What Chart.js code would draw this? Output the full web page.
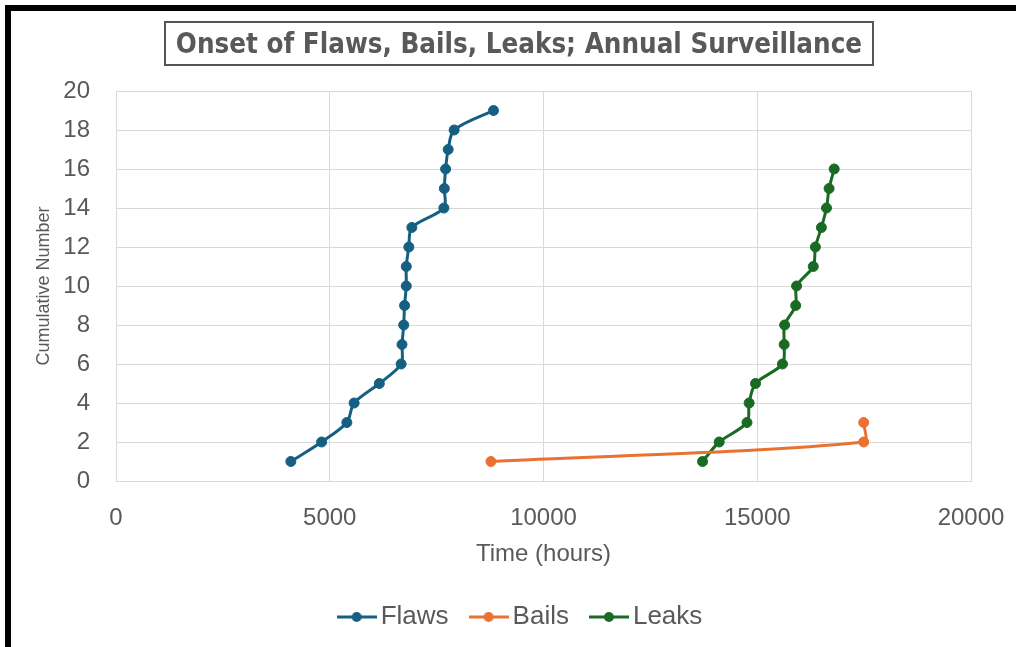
<!DOCTYPE html>
<html>
<head>
<meta charset="utf-8">
<script src="https://cdn.jsdelivr.net/npm/chart.js@4.4.1/dist/chart.umd.min.js"></script>
<style>
  html, body { margin: 0; padding: 0; background: #fff; }
  #wrap { position: relative; width: 1016px; height: 647px; overflow: hidden; background: #fff; }
  canvas { position: absolute; left: 0; top: 0; }
  #frame {
    position: absolute; left: 5px; top: 5px; right: -20px; bottom: -20px;
    border-top: 6px solid #000; border-left: 6px solid #000; pointer-events: none;
  }
  #title {
    position: absolute; left: 164px; top: 21px; width: 710px; height: 45px;
    box-sizing: border-box; border: 2px solid #555;
    font: bold 27.5px "DejaVu Sans Condensed", "Liberation Sans", sans-serif;
    color: #595959; text-align: center; line-height: 41px; white-space: nowrap;
  }
</style>
</head>
<body>
<div id="wrap">
  <canvas id="c" width="1016" height="647"></canvas>
  <div id="title">Onset of Flaws, Bails, Leaks; Annual Surveillance</div>
  <div id="frame"></div>
</div>
<script>
// Onset times (hours) and cumulative counts for each failure type
const flawsHours = [4090, 4810, 5400, 5570, 6160, 6670, 6690, 6730, 6750, 6790, 6790, 6850, 6920, 7670, 7680, 7710, 7770, 7910, 8830];
const flawsCount = [1, 2, 3, 4, 5, 6, 7, 8, 9, 10, 11, 12, 13, 14, 15, 16, 17, 18, 19];

const bailsHours = [8770, 17490, 17490];
const bailsCount = [1, 2, 3];

const leaksHours = [13720, 14110, 14760, 14810, 14960, 15590, 15630, 15640, 15900, 15920, 16310, 16360, 16500, 16620, 16680, 16800];
const leaksCount = [1, 2, 3, 4, 5, 6, 7, 8, 9, 10, 11, 12, 13, 14, 15, 16];

const seriesNames = ['Flaws', 'Bails', 'Leaks'];
const seriesColors = ['#156082', '#E97132', '#196B24'];

const xTicks = [0, 5000, 10000, 15000, 20000];
const yTicks = [0, 2, 4, 6, 8, 10, 12, 14, 16, 18, 20];

const TEXT = '#595959';
const GRID = '#d9d9d9';
const FONT = '"Liberation Sans", Arial, sans-serif';
const LEGEND_OFFSET = 26;   // legend is centred on the whole chart frame, not the canvas

function pairs(xs, ys) {
  return xs.map((x, i) => ({ x: x, y: ys[i] }));
}

// Small line-with-dot icon used for the legend entries
function legendIcon(color) {
  const cv = document.createElement('canvas');
  cv.width = 40; cv.height = 12;
  const g = cv.getContext('2d');
  g.strokeStyle = color; g.lineWidth = 3;
  g.beginPath(); g.moveTo(0, 6); g.lineTo(40, 6); g.stroke();
  g.fillStyle = color;
  g.beginPath(); g.arc(20, 6, 5, 0, Math.PI * 2); g.fill();
  return cv;
}

function makeSet(i, xs, ys) {
  return {
    label: seriesNames[i],
    data: pairs(xs, ys),
    showLine: true,
    borderColor: seriesColors[i],
    backgroundColor: seriesColors[i],
    pointBackgroundColor: seriesColors[i],
    pointBorderColor: seriesColors[i]
  };
}

const legendShift = {
  id: 'legendShift',
  afterLayout(chart) {
    if (chart.legend) {
      chart.legend.left += LEGEND_OFFSET;
      chart.legend.right += LEGEND_OFFSET;
    }
  }
};

new Chart(document.getElementById('c'), {
  type: 'scatter',
  plugins: [legendShift],
  data: {
    datasets: [
      makeSet(0, flawsHours, flawsCount),
      makeSet(1, bailsHours, bailsCount),
      makeSet(2, leaksHours, leaksCount)
    ]
  },
  options: {
    responsive: false,
    animation: false,
    layout: { padding: { left: 25, right: 45, top: 91, bottom: 7 } },
    elements: {
      line: { borderWidth: 3, tension: 0.3 },
      point: { radius: 5, hoverRadius: 5, borderWidth: 1 }
    },
    plugins: {
      tooltip: { enabled: false },
      legend: {
        position: 'bottom',
        labels: {
          usePointStyle: true,
          pointStyleWidth: 22,
          padding: 29,
          color: TEXT,
          font: { family: FONT, size: 26 },
          generateLabels(chart) {
            return chart.data.datasets.map((ds, i) => ({
              text: ds.label,
              pointStyle: legendIcon(ds.borderColor),
              fillStyle: ds.borderColor,
              strokeStyle: ds.borderColor,
              fontColor: TEXT,
              lineWidth: 0,
              hidden: false,
              datasetIndex: i
            }));
          }
        }
      }
    },
    scales: {
      x: {
        type: 'linear',
        min: xTicks[0],
        max: xTicks[xTicks.length - 1],
        afterBuildTicks(s) { s.ticks = xTicks.map(v => ({ value: v })); },
        afterFit(s) { s.height = 94; s.paddingLeft = 0; s.paddingRight = 0; },
        ticks: {
          color: TEXT, font: { family: FONT, size: 24 }, padding: 23, maxRotation: 0,
          callback: v => String(v)
        },
        grid: { color: GRID, drawTicks: false },
        border: { color: GRID },
        title: {
          display: true, text: 'Time (hours)', color: TEXT,
          font: { family: FONT, size: 24 }, padding: { top: 0, bottom: 6.6 }
        }
      },
      y: {
        type: 'linear',
        min: yTicks[0],
        max: yTicks[yTicks.length - 1],
        afterBuildTicks(s) { s.ticks = yTicks.map(v => ({ value: v })); },
        afterFit(s) { s.width = 91; },
        ticks: {
          color: TEXT, font: { family: FONT, size: 24 }, padding: 26,
          callback: v => String(v)
        },
        grid: { color: GRID, drawTicks: false },
        border: { color: GRID },
        title: {
          display: true, text: 'Cumulative Number', color: TEXT,
          font: { family: FONT, size: 18 }, padding: { top: 8.2, bottom: 0 }
        }
      }
    }
  }
});
</script>
</body>
</html>
